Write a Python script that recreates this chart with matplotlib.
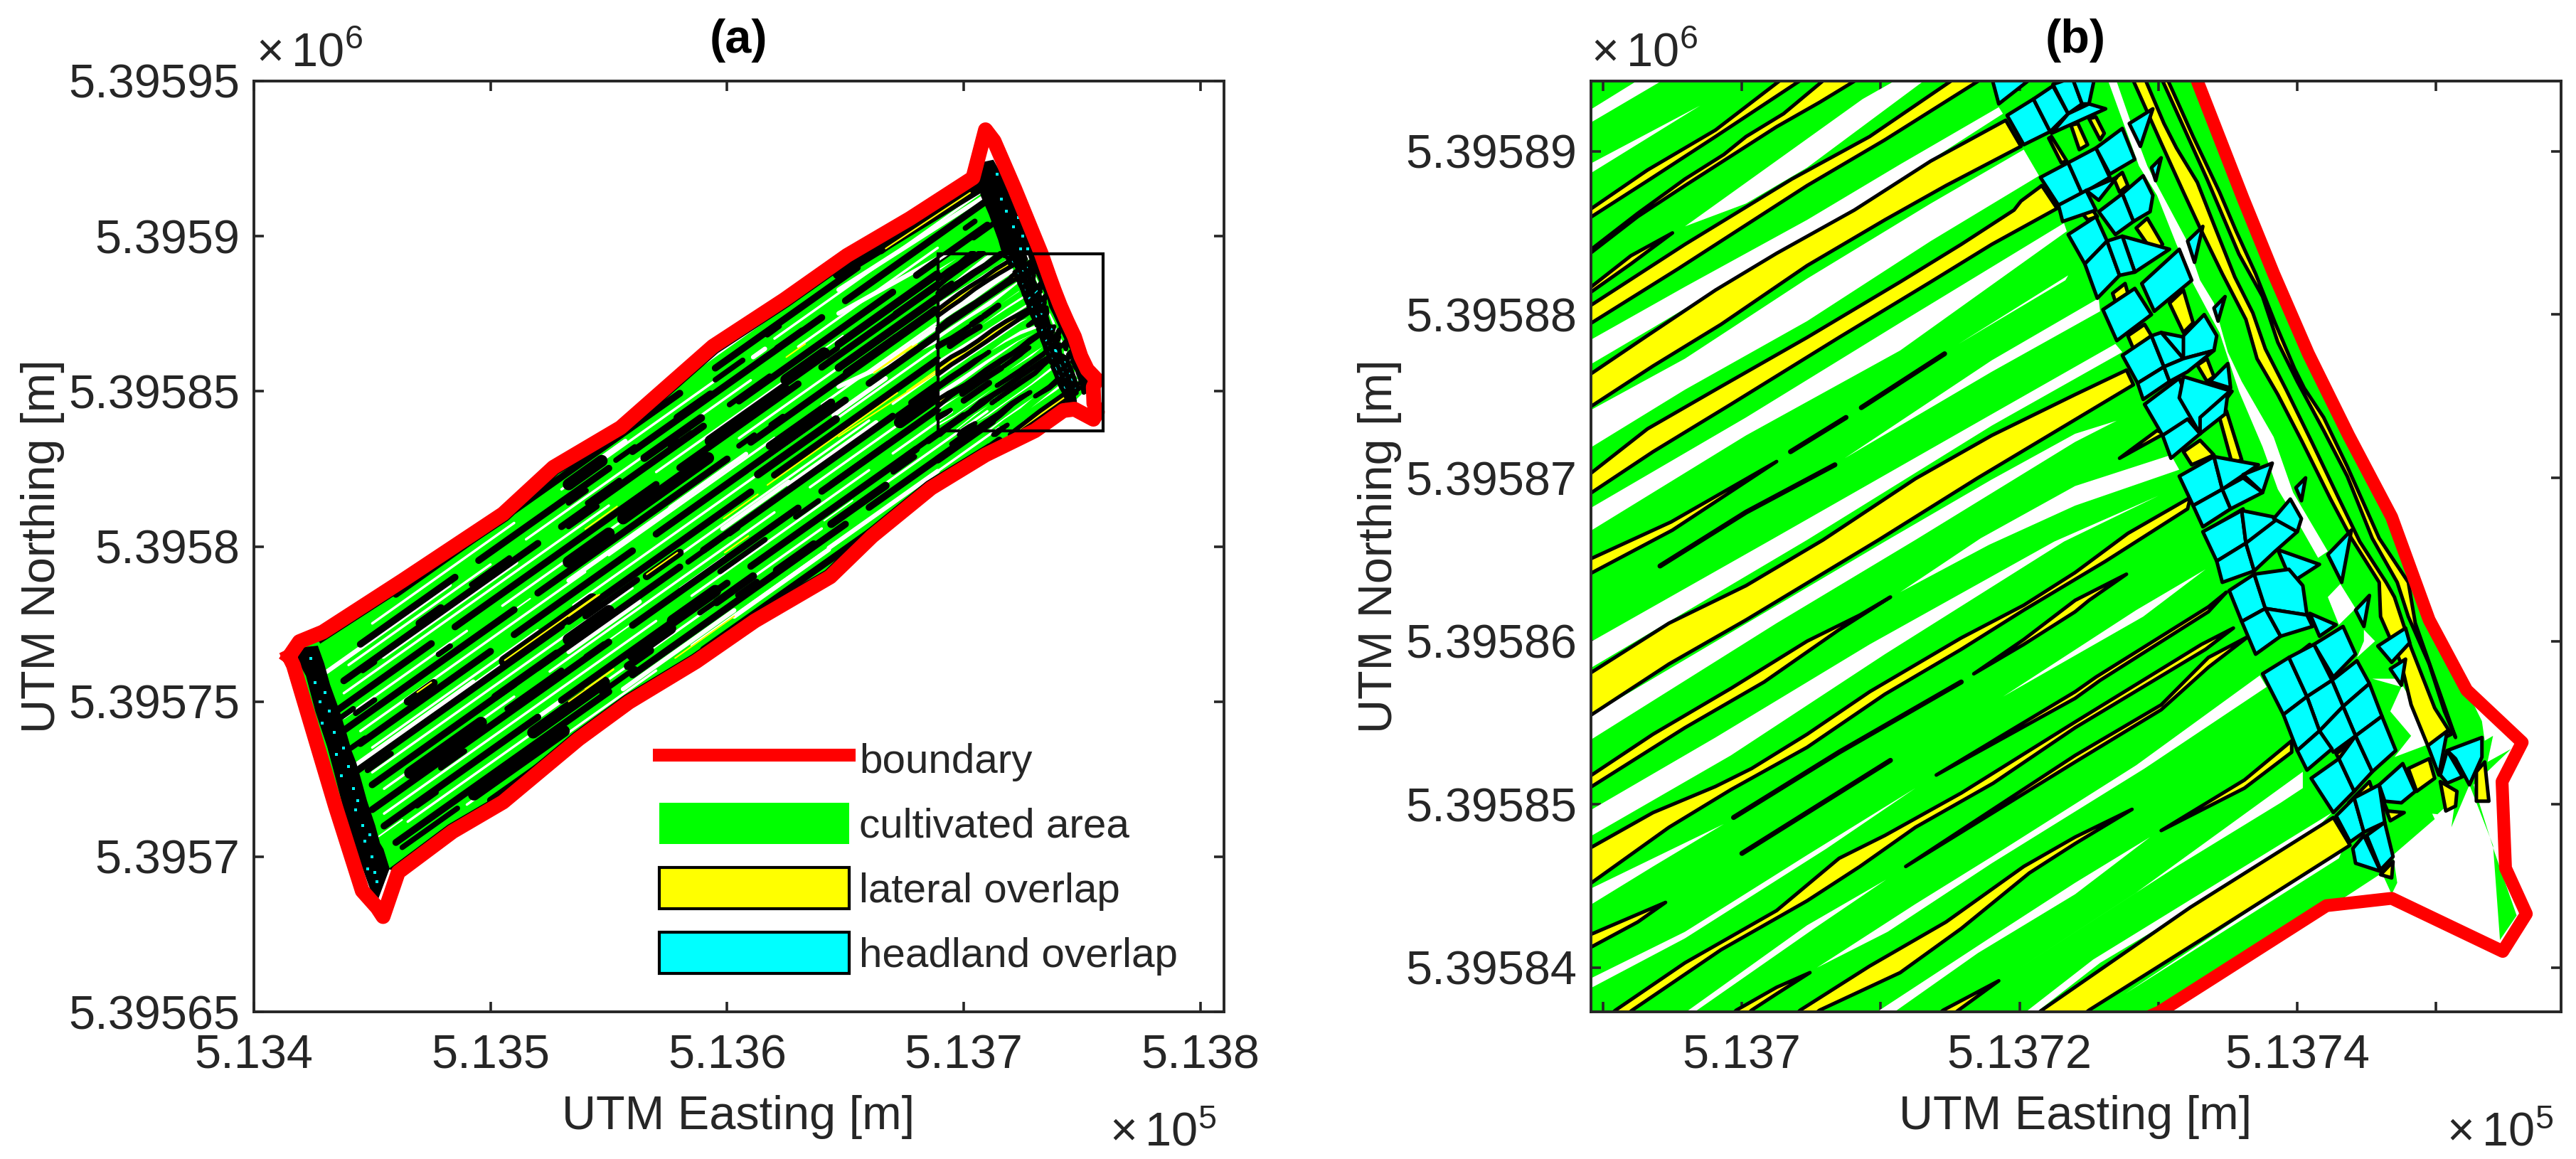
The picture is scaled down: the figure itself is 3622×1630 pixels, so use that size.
import matplotlib
matplotlib.use("Agg")
import matplotlib.pyplot as plt
from matplotlib.lines import Line2D
from matplotlib.patches import Patch, Polygon, Rectangle

plt.rcParams['font.family'] = ['Liberation Sans', 'DejaVu Sans']
plt.rcParams['mathtext.fontset'] = 'custom'
plt.rcParams['mathtext.rm'] = 'Liberation Sans'
plt.rcParams['mathtext.default'] = 'regular'

# local origin of the field, metres (UTM)
EAST0, NORTH0 = 513700.0, 5395800.0

# ---- field outline, (east, north) metres from the origin
BOUNDARY = [(-285.1,-35.5),(-280.8,-30.7),(-270.9,-27.6),(-237.2,-11),(-194.7,10.5),(-173.4,25.5),
 (-145,38.3),(-106,64.5),(-75.9,79.5),(-49.3,93.8),(-22.7,105.7),(3.9,118.8),(9.2,134.3),(12.8,130.7),
 (21.6,115.2),(32.8,94.3),(36.1,87.1),(38.3,82.5),(40.8,77.6),(43.7,72.6),(46.8,67.6),(49.5,61.3),
 (52.2,57),(56.2,53.8),(54.75,51.4),(55,46.1),(56.5,43.3),(54.8,41),(46.8,44.25),(42.1,43.8),(33.8,39.3),
 (30.1,37.3),(9.2,29.5),(-13.8,18.8),(-38.7,3.3),(-56.4,-9.8),(-88.3,-24),(-113.1,-37.1),(-141.5,-50.2),
 (-162.8,-62.1),(-194.7,-82.4),(-216,-91.9),(-239,-105),(-245.4,-119.3),(-247.9,-116.4),(-254.2,-111),
 (-265.6,-83.6),(-283.3,-38.3)]
FIELD = [(-281,-36),(-278,-32),(-270.9,-27.6),(-237.2,-11),(-194.7,10.5),(-173.4,25.5),(-145,38.3),(-106,64.5),
 (-75.9,79.5),(-49.3,93.8),(-22.7,105.7),(3.9,118.8),(9,124),(12.2,124.1),(21.6,115.2),(32.8,94.3),(36.1,87.1),
 (38.3,82.5),(40.8,77.6),(43.7,72.6),(46.8,67.6),(49.5,61.3),(52.2,57),(53.3,55.1),(53.5,53.9),(54.1,54.2),
 (53.7,52.6),(55.4,53.4),(52.7,51.2),(54.2,47.1),(55.8,43.2),(54.6,41.7),(54.1,47.5),(52.4,51.2),(51.1,48.6),
 (51.4,50.4),(50.1,49.4),(49,49.5),(48,52.6),(49.9,49.1),(46.9,46.9),(47.2,45.2),(46.8,44.5),(46.1,45.8),
 (43.4,44.3),(42,44.1),(33.8,39.3),(30.1,37.3),(9.2,29.5),(-13.8,18.8),(-38.7,3.3),(-56.4,-9.8),(-88.3,-24),
 (-113.1,-37.1),(-141.5,-50.2),(-162.8,-62.1),(-194.7,-82.4),(-216,-91.9),(-239,-105),(-243,-104),(-247.8,-113),
 (-254,-104),(-265.6,-83.6)]
EDGE_NORTH = BOUNDARY[2:12]
EDGE_SOUTH = BOUNDARY[32:43]

# ---- uncultivated gaps inside the zoomed area
GAPS = [
 [(-11,92.5),(-7.2,94.5),(-5.4,94.5),(-11,91.7)],
 [(-3,92.8),(-11,89.2),(-11,88.6)],
 [(-4.1,85.4),(8.7,93.2),(11.4,94.5),(13.4,94.5),(4.7,89),(.3,86.8)],
 [(-11,78.4),(-4.1,81.7),(4.7,85.8),(11.4,89.2),(18.5,92.7),(18.8,92.3),(6.9,85.8),(.3,82.6),(-6.4,79.2),(-11,76.9)],
 [(-11,74.1),(-4.1,77.3),(4.7,82.2),(13.6,86.8),(20.3,90.1),(21.4,88.5),(13.6,84.5),(4.7,79.6),(-4.1,75.4),(-11,71.8)],
 [(-11,68.1),(.3,73.7),(11.4,79.5),(23.2,85.6),(23.4,85.1),(11.4,77.8),(.3,72.6),(-11,66.7)],
 [(7.4,71.2),(18,77.2),(25.7,81),(25.8,80.2),(18,76.5)],
 [(15.6,78.2),(23.5,82.4),(23.3,82.1)],
 [(-11,59.9),(2.1,66.2),(18,73.9),(26.9,78.2),(27.4,77.7),(18,73.2),(4.7,66.2),(-11,58.3)],
 [(-11,55.4),(10.5,66.2),(18,69.9),(24,72.7),(27,73.5),(24,72.2),(12.5,66.2),(2.5,61.1),(-11,53.9)],
 [(11.4,63),(17.2,66.3),(24,69.5),(30.9,71.4),(31.5,70.5),(24,68.3),(17.8,65.9)],
 [(-11,49.6),(-1.9,54.1),(9.2,59.8),(22.5,66.1),(30,68.9),(23.2,66.1),(10.3,59.2),(-.8,53),(-11,48)],
 [(-11,44.8),(-1.3,48.8),(-6.4,46.2),(-11,43.8)],
 [(-11,39.3),(-4.1,42.2),(4.7,46.9),(12.5,51),(6.1,47.3),(-4.1,41.8),(-11,38.7)],
 [(-4.5,37),(4.7,42.6),(10.4,45.4),(5.2,42.4),(-3.9,37)],
 [(5.4,40),(12.5,43.9),(18,46.8),(28.4,52.4),(37.3,57.9),(37.8,57.2),(29,52.2),(18,46.4),(10.5,42.2)],
 [(9.2,37),(18,41.9),(24,45.2),(29.4,48),(24,44.5),(17,40.9),(10.5,37)],
 [(18.8,56.6),(28.4,61.9),(33.4,64.4),(28.9,61.5)],
 [(19.3,39.6),(28.4,44.6),(40.4,52),(40.4,51),(38.8,50.1),(31.5,46.3)],
 [(20,37),(25.3,40.5),(42.5,49.5),(40.4,47.7),(25.8,40.3),(20.8,37)],
 [(27.6,38.4),(43,46.7),(43.3,47.3),(29,39.2)],
 [(26.3,94.5),(28.6,89.1),(29.9,87.3),(31.3,84.3),(32.5,81.9),(33.5,80.3),(34.4,78.9),(35.8,75.3),(37.5,71.9),
  (38.6,69.3),(40.3,66.9),(41.5,65.1),(42.2,65.5),(39.7,69.1),(38.3,72.5),(36,75.9),(35,77.7),(34,80.7),(33,82.1),
  (32,84.6),(29.8,88.1),(29.2,89.1),(28,91.8),(26.9,94.5)],
 [(42.2,62.7),(43.1,63.5),(44.2,62),(43,61)],
 [(44.8,60.7),(45.6,60),(44.3,59),(44.8,60)],
 [(45.4,57.7),(47.5,57.2),(46.7,55.7),(48.2,54.2),(47,52.9),(49.5,53.7),(48.4,56.1),(47.3,57.7)],
]

# ---- lateral overlap stripes, upper and lower rim of each
LATERAL = [
 ([(-11,86.4),(-6.8,88.85),(-1.9,91.3),(3,94.5)], [(4.5,94.5),(-1.9,90.9),(-6.6,88.3),(-11,85.9)]),
 ([(-11,83.9),(-7.5,86.2),(-4.1,88.3),(-1.3,89.8),(.3,90.9),(3,92.3),(6.1,94.5)],
  [(8.5,94.5),(5.6,93),(2.5,91.5),(-.8,89.7),(-4.1,87.9),(-7.5,86),(-11,83.7)]),
 ([(-11,80.5),(-4.1,84.3),(3.6,88.3),(9.2,90.9),(15.4,94.5)], [(17.4,94.5),(10.3,90.7),(4.7,87.9),(-4.6,82.8),(-11,79.4)]),
 ([(-11,76.3),(-7,78.6),(-1.9,81.5),(2.5,83.75),(8.1,86.4),(13.6,89.4),(19,91.9)],
  [(20.1,90.3),(14.7,87.9),(10.3,85.8),(4.7,83),(-1.5,79.4),(-6.4,76.85),(-11,74.3)]),
 ([(-11,70.2),(-6.8,73),(-1.9,75.4),(4.7,78.6),(11.4,82),(15.8,84.3),(19.6,86.4),(20.1,86.95),(21.6,87.9)],
  [(22.7,86.5),(18,84.3),(13.6,82),(7,78.6),(-.8,74.5),(-6.4,71.6),(-11,69)]),
 ([(-11,58),(-5.25,61.1),(.3,63.4),(5.85,66.2),(12.5,69.95),(18,72.6),(24,75.1),(27.7,76.6)],
  [(28.2,75.7),(17,70),(9.85,66.2),(.3,61.3),(-5.25,58.6),(-11,55.4)]),
 ([(-11,51.7),(-6.4,54.3),(-.8,57.1),(4.7,60),(8.5,61.6),(10.7,62.7)], [(7,60.7),(1.6,57.5),(-4.1,54.7),(-11,51)]),
 ([(-11,47.3),(-6.4,49.5),(-1.9,51.1),(.7,52.2),(4.7,54.3),(9.2,56.9),(15.8,60.2),(20.3,62.2),(24,64.2),(27.8,66.6),(32.3,68.8)],
  [(32.1,68.1),(26.2,64.9),(20.3,61.9),(15.8,59.5),(10.3,56.75),(4.7,53.5),(-.8,50.9),(-5.25,48.6),(-11,45.1)]),
 ([(16.7,58),(20.3,60.1),(24,62.5),(27.7,64.1)], [(25,62.5),(24,61.8),(20.3,59.8)]),
 ([(14,51.8),(24,56.9),(25.5,57.8),(33.6,62.1),(34.9,63)], [(33.6,61.8),(25.8,57.6),(24,56.5)]),
 ([(-11,36),(-9.1,37.4),(-4.1,40.3),(2.5,43.5),(7,46.7),(10.3,48.1),(15.8,50.7),(24,55.05),(33.1,59.8),(35.4,60.8)],
  [(33.4,59.5),(24,54.7),(18.1,51.3),(12.5,48.6),(8.5,46.2),(4.7,44.1),(-1.5,41.1),(-7.9,37.4),(-10,36)]),
 ([(11.8,46.2),(24,53),(30.2,56.1),(33.6,59),(36.5,60.3)], [(33.6,58.4),(30.2,55.8),(24,52.6)]),
 ([(30.2,48.4),(36.2,51.5),(39.6,53.9)], [(39.6,53.2),(36.2,51)]),
 ([(2.5,36),(4.2,37.4),(9.2,40.1),(14.7,42.8),(20.3,46.2),(24,48),(28.1,49.7)],
  [(24,47.6),(20.7,45.8),(15.8,42.4),(11.4,39.7),(5.6,37.4),(3.5,36)]),
 ([(-2,36),(-.4,37.4),(2.5,38.8),(4.9,39.7)], [(2.5,38.4),(.7,37.4),(-1,36)]),
 ([(12.5,36),(14.5,37.4),(18.5,39.2)], [(15.6,37.4),(13.5,36)]),
 ([(19.5,36),(21.6,37.4),(32.3,43.7),(42.6,49.2)], [(43.8,47.5),(33.6,42),(25,37.4),(23,36)]),
 ([(-11,42),(-5.5,44)], [(-7.5,42.8),(-11,41.2)]),
 ([(-11,65),(-5.1,67.3),(2.5,71)], [(-5,66.8),(-11,64.1)]),
 ([(-11,81.6),(-8,83.6),(-5,85)], [(-8,83.1),(-11,81.3)]),
 ([(27.2,71.2),(29.9,72.9)], [(30.4,72.7)]),
 ([(28.1,94.5),(30.2,90.5),(31.8,87.5),(33,85.3),(34.6,82.5),(36.3,79.7),(37.1,77.3),(38.6,75.1),(40.3,72.3),
   (42.4,68.7),(43.9,66.3),(45.9,63.6),(46,61.5),(47.5,58.6),(48.2,56.1),(49.4,53.6)],
  [(51.1,54.3),(49.9,55.9),(48.2,59.6),(47,62.7),(46.4,63.6),(44.5,66.1),(42.9,68.9),(41.1,72.1),(39.2,75.4),(37.7,77.9),
   (36.8,80.1),(35.5,82.3),(34,85.5),(32.8,88.1),(31.3,90.2),(30.4,91.7),(29,94.5)]),
 ([(30.2,94.5),(31.8,91.5),(33.5,88.3),(34.4,86.5),(35.8,83.7),(37.5,81.1),(38.6,78.3),(40,75.9),(41.9,72.9),(43.6,70.1),
   (45.4,66.3),(47.2,63.6),(48,61.5),(49.5,58.6),(50.6,55.7),(51.4,54.1)],
  [(50.9,55.3),(48.5,61.1),(48,63.6),(45.9,66.3),(43.6,70.7),(41.9,73.7),(40.5,75.5),(39.8,76.7),(38.4,79.5),(37,82.5),
   (35.6,85.1),(34.4,87.5),(32.5,90.9),(30.6,94.5)]),
]
LATERAL_PIECES = [
 [(23.7,91.6),(24.3,90.1),(24.9,90.4),(24.2,91.7)],[(25,92),(25.8,90.7),(26.1,91.1),(25.5,92.1)],
 [(22.1,90.8),(23,89.3),(23.4,89.4),(22.3,90.9)],[(26.8,88.3),(27.4,88.7),(27.8,87.9),(27.2,87.5)],
 [(24.4,86.3),(25,86.7),(25.6,86),(24.9,85.8)],[(28.4,85.3),(29.2,85.9),(30.3,84.3),(29.7,83.7)],
 [(26.7,81.3),(27.6,81.9),(27.8,81.3),(26.9,80.8)],[(30.8,80.7),(31.8,81.5),(32.5,79.5),(31.8,78.9)],
 [(27.8,78.7),(29,79.4),(29.5,78.7),(28.2,77.9)],[(32.8,76.9),(33.5,77.3),(34,76.2),(33.5,75.9)],
 [(34.4,73.7),(34.9,74.1),(36,71.1),(35.3,70.9)],[(31.8,71.6),(33,72.3),(34,71.4),(32.4,70.8)],
 [(34.3,67.2),(36.1,68.1),(36.1,67.8),(34.4,67)],[(39.4,58.8),(40.9,59.8),(41.2,59.4),(39.6,58.4)],
 [(42.8,53.1),(44.1,53.9),(44.2,53.5),(43,52.8)],[(43.7,50.1),(45.2,51.4),(45.6,50.4),(44,50)],
 [(45.9,50.8),(46.5,49.6),(47.7,49.5),(46.7,49)],[(48,52.2),(49.5,52.8),(49.9,51.6),(48.6,50.8)],
 [(50.3,51.4),(51.5,50.8),(51.4,49.9),(50.7,49.6)],[(52.9,52),(53.5,52.6),(53.8,50.2),(52.9,50.2)],
 [(46,45.7),(46.9,46.5),(46.8,45.5)],
]
# ---- narrow tracks where two passes just touch
TRACKS = [
 [(-5.9,64.6),(.3,67.9),(6.7,70.8)],[(3.5,71.6),(7.5,73.7)],[(8.6,74.3),(14.6,77.6)],
 [(-.6,49.2),(7,53.2),(15.8,57.5)],[(0,47),(10.7,52.7)],
]
# ---- headland overlap cells
HEADLAND = [
 [(19.1,92.2),(21,93.2),(22.2,91.2),(20.3,90.4)],[(21,93.2),(22.4,94),(23.5,92.3),(22.2,91.2)],
 [(22.4,94.1),(23.8,94.5),(24.5,92.9),(23.5,92.3)],[(23.8,94.5),(25.4,94.5),(25,92.9),(24.5,92.9)],
 [(25,92.9),(26.2,92.6),(22.3,91.1),(23.5,92.3)],[(18,94.5),(18.5,92.9),(20.9,94.5)],
 [(27.9,91.7),(29.6,92.6),(28.7,90.3)],[(21.5,88.4),(23.5,89.3),(24.5,87.4),(22.8,86.7)],
 [(23.5,89.3),(25.5,90.2),(26.5,88.4),(24.5,87.4)],[(25.5,90.2),(27.4,91.4),(28.3,89.5),(26.5,88.6)],
 [(22.8,86.7),(24.8,87.6),(25.5,86.4),(23.1,85.7)],[(24.8,87.6),(27,88.4),(25.7,87)],
 [(27.4,87.4),(28.9,88.5),(29.6,87.3),(29.4,86.3),(28.2,85.7)],[(29.5,89),(30.2,89.6),(29.8,88.2)],
 [(25.7,86.3),(27.4,87.4),(28.2,85.7),(26.9,84.9)],[(23.5,84.9),(25.5,86),(26.3,84.5),(24.7,83.1)],
 [(24.7,83.1),(26.3,84.5),(27.2,82.4),(25.6,81)],[(27.4,84.8),(30.8,84),(28.3,82.6)],
 [(26.3,84.5),(27.4,84.8),(28.3,82.6),(27.2,82.4)],[(32.1,84.5),(33.2,85.4),(32.6,83.2)],
 [(28.8,81.9),(31.5,84),(32.4,82.1),(29.7,80.2)],[(26,80.3),(28.3,81.6),(29.5,80),(27,78.4)],
 [(34,80.4),(34.8,81.1),(34.3,79.6)],[(30.2,78.9),(33.7,78.3),(31.8,77.3)],
 [(27.4,77.5),(29.5,78.7),(30.4,76.8),(28.5,75.8)],[(28.5,75.8),(30.4,76.8),(30.8,75.9),(28.9,74.8)],
 [(29.5,78.7),(30.2,78.9),(31.8,77.3),(30.4,76.8)],[(31.8,78.7),(33.3,80),(34.2,78.7),(34,77.8),(31.8,77.3)],
 [(30.4,76.8),(31.8,77.3),(34,77.8),(32.1,76.5),(30.8,75.9)],[(29,74.5),(31.5,76.1),(32.6,73.7),(30.3,72.6)],
 [(30.3,72.6),(32.1,73.6),(33,72.7),(30.9,71.2)],[(31.8,76.2),(35.3,75.3),(33,72.7),(31.5,74.9)],
 [(33.7,75.9),(35,77),(35.2,75.5)],[(33,72.7),(34.8,73.9),(35,75.2),(33,73.7)],
 [(31.5,70.1),(34,71.3),(34.6,69.3),(32.5,68.3)],[(32.5,68.3),(34.6,69.3),(35.2,68.1),(33.2,67)],
 [(34,71.3),(37.2,70.8),(34.6,69.3)],[(34.6,69.3),(36.1,70),(37.5,69.1),(35.2,68.1)],
 [(36.1,70.2),(38.2,70.9),(37.5,69.1)],[(39.9,69.4),(40.6,70),(40.3,68.6)],
 [(33.2,66.7),(36,68),(36.3,66),(34.2,64.9)],[(36,68),(39.5,67.4),(36.3,66)],
 [(34.2,64.9),(36.3,66),(36.9,64.3),(34.6,63.6)],[(36.3,66),(38.6,67.5),(40,66.7),(38.4,65.5),(36.9,64.3)],
 [(38.3,67.5),(39.5,68.7),(40.3,67.5),(40,66.7)],[(38.6,65.6),(41.6,64.7),(39.6,63.6)],
 [(42.2,65.3),(43.9,66.8),(43.2,63.6)],
 [(35.1,63.1),(36.9,64.1),(37.7,62),(36,61.2)],[(36.9,64.1),(39.4,64.4),(40.4,63.4),(40.7,61.6),(37.7,62)],
 [(36,61.2),(37.7,62),(38.8,60.3),(37,59.2)],[(37.7,62),(40.7,61.6),(41.1,60.9),(38.8,60.3)],
 [(40.9,61.7),(42.8,61),(41.6,60.3)],[(41.2,59.8),(43.3,60.9),(44.2,59.2),(42.6,57.8)],
 [(37.5,58),(39.4,59),(40.7,56.6),(39,55.5)],[(39.4,59),(41.2,59.8),(42.5,57.6),(40.7,56.6)],
 [(42.5,57.6),(44.3,58.8),(45.2,57.4),(43.3,56)],[(40.7,56.6),(42.5,57.6),(43.3,56),(41.6,54.5)],
 [(39,55.5),(40.7,56.6),(41.6,54.5),(40,53.3)],[(43.3,56),(45.2,57.4),(46.1,55.4),(44.2,54.2)],
 [(41.6,54.5),(43.3,56),(44.2,54.2),(42.6,53.2)],[(40,53.3),(41.6,54.5),(42.5,53.4),(40.7,52.1)],
 [(41,51.6),(43,52.8),(44.1,50.8),(42.6,49.5)],[(43,52.8),(44.2,54.2),(45.4,52),(44.1,50.8)],
 [(44.2,54.2),(46.1,55.4),(47.1,53.3),(45.4,52)],[(42.8,49.3),(44.1,50.4),(44.8,48.3),(43.8,47.7)],
 [(44.1,50.4),(45.9,51.2),(46.3,48.9),(44.8,48.3)],[(44,47.3),(44.8,48.1),(46,45.9),(44.2,46.4)],
 [(45,48.1),(46.3,48.9),(46.9,46.8),(46,46)],[(45.9,51.2),(47.6,52.5),(48.5,50.8),(47.5,50.1),(46.3,50.2)],
 [(49.4,53.6),(50.8,54.5),(50.2,51.8)],[(50.8,53.3),(53.3,54.1),(53.3,52.9),(52.4,51.2),(51.4,52.8)],
 [(50.3,51.8),(50.8,53.3),(51.9,51.7),(50.8,51.3)],[(45.8,59.7),(47.8,60.8),(48.1,59.9),(46.8,58.7)],
 [(46.7,58.3),(47.8,58.9),(47.5,57.3)],[(44.2,61.9),(45.2,62.8),(44.8,60.9)],
]

# ---- whole-field overview: dense headlands and streaks (e0,n0,e1,n1)
HEAD_WEST = [(-281.4,-35.9),(-278.4,-32.9),(-273.4,-32.5),(-270.9,-37.8),(-268.4,-44.7),(-264.4,-53.1),(-261.3,-60.7),
 (-259.3,-66),(-257.3,-69.9),(-255.3,-75.2),(-252.8,-82.1),(-249.3,-90.1),(-247.3,-95.8),(-245.8,-97.7),(-243.3,-103.8),
 (-247.8,-113),(-250.3,-110.3),(-254.3,-101.9),(-259.3,-91.2),(-264.4,-76),(-268.4,-64.5),(-273.4,-53.1),(-277.4,-41.6)]
HEAD_EAST = [(9.2,123.6),(12.2,124.1),(16.2,118.6),(21.2,109.5),(26.3,101.1),(31,93),(17.2,93.4),(15.2,98.8),(11.2,107.2),(7.7,113.3),(7.2,117.8)]
HEAD_SPECKS_E = [-276,-274,-272,-270,-271,-268,-266,-265,-262,-263,-260,-258,-257,-256,-254,-253,-251,-250,-252,-249,-248,14,16,18,20,21,23,25,24,27]
HEAD_SPECKS_N = [-36,-44,-50,-47,-57,-53,-60,-67,-65,-74,-71,-78,-85,-82,-90,-95,-93,-100,-104,-105,-108,120,112,108,115,103,106,100,96,96]
# pass-to-pass tracks: north value of each row at e=-167, and the stretches (from e, to e) read along it
ROW_NORTH = [24, 16, 8, 0, -8, -16, -24, -32, -40, -48, -56, -64, -72]
ROW_STRETCH = [
 [(-240,-200),(-190,-120),(-105,-45),(-35,5)],
 [(-255,-215),(-205,-150),(-140,-60),(-50,12)],
 [(-262,-180),(-170,-110),(-95,-30),(-20,10)],
 [(-270,-225),(-215,-130),(-120,-70),(-60,-11)],
 [(-262,-190),(-180,-100),(-90,-11)],
 [(-255,-200),(-190,-140),(-130,-50),(-40,-11)],
 [(-258,-170),(-160,-90),(-80,-11)],
 [(-250,-190),(-180,-120),(-110,-30),(-22,-11)],
 [(-250,-150),(-140,-70),(-60,-11)],
 [(-245,-180),(-170,-100),(-90,-20),(-15,0)],
 [(-240,-150),(-140,-50),(-40,10)],
 [(-200,-120),(-110,-30),(-20,15)],
 [(-160,-90),(-80,-5)],
]
GAP_NORTH = [28, 20, 12, 4, -4, -12, -20, -28, -36, -44, -52, -60, -68]
GAP_STRETCH = [
 [(-230,-170),(-150,-60),(-40,8)],
 [(-250,-190),(-170,-100),(-80,-11),(-11,10)],
 [(-260,-200),(-185,-90),(-70,-11)],
 [(-262,-150),(-130,-60),(-45,-11)],
 [(-262,-210),(-195,-110),(-95,-11)],
 [(-255,-160),(-150,-80),(-60,-11)],
 [(-250,-180),(-165,-70),(-55,-11)],
 [(-250,-140),(-125,-40),(-30,-11)],
 [(-245,-190),(-175,-80),(-65,-11)],
 [(-245,-130),(-115,-40),(-30,-5)],
 [(-235,-160),(-150,-60),(-50,10)],
 [(-210,-130),(-115,-30),(-15,15)],
 [(-180,-95),(-85,-5)],
]
ROW_RISE = 0.54
STREAK_HEAVY = [(-144,9,-108,28.5),(-107,34,-76,50.7),(-167,20,-153,27.6),(-75,53.7,-59,62.3),(-167,-5,-150,4.2),
 (-123,-24,-105,-14.3),(-140,-35,-124,-26.4),(-234,-73,-204,-56.8),(-53,88,7,116),(-194,-37,-157,-17),(-207,-80,-169,-59.5),
 (-182,-60,-152,-43.8),(-167,-30,-150,-20.8),(-27,40,-12,48.1)]
STREAK_THICK = [(-121,41.5,-107,49),(-135,28.5,-111,41.4),(-82,32.4,-56,46.4),(-87,23.2,-54,41),(-49.4,56,-12,76.2),
 (-79,-7.7,-63.4,.7),(-134,-9.6,-120,-2),(-104.5,-18,-89,-9.6),(-142,-38.6,-132.5,-33.5),(-167,-24,-154.6,-17.3),
 (-198,-48.5,-172,-34.5),(-49.4,56,-28.3,67.4),(-52.9,65.2,-11.3,87.7),(-52.9,57.6,-11.3,80),(-56,7.2,-33,19.6),
 (-230,-24.8,-221,-19.9),(-235,-50,-224,-44),(-11,28,12,40.4)]
STREAK_THIN = [(-83,68.2,-78,71),(-79,64,-68.4,69.7),(-105,53.7,-93.4,60),(-120,33.9,-115,36.6),(-124,32.4,-121,34),
 (-159,14,-145.5,21.3),(-167,14,-159.6,18),(-95,32.4,-88.5,35.9),(-99,45.7,-82,54.9),(-81.4,39.2,-76.4,41.9),
 (-58,61.4,-53.4,63.9),(-53.4,29.3,-46.4,33.1),(-56,20.2,-32,33.2),(-29.8,24,-20.8,28.9),(-24.3,29.3,-10.8,36.6),
 (-71,9.5,-61.4,14.7),(-85,12.5,-80.4,15),(-99,4.1,-95.5,6),(-116.5,-5,-104.5,1.5),(-103,-8.1,-84,2.2),
 (-27.8,42.3,-10.8,51.5),(-95.5,-15.7,-87.4,-11.3),(-111.5,-21.4,-105.5,-18.2),(-159.6,-35.5,-152,-31.4),
 (-159.6,-22.6,-138,-10.9),(-119,1.8,-114,4.7),(-167,6.4,-155,12.9),(-147,27.8,-139,32.1),
 (-208,-12.3,-192,-3.7),(-174,-11.9,-163,-6),(-160,-22.6,-138,-10.7),(-222,-34.8,-217,-32.1),(-254,-40,-249,-37.3),
 (-257,-53.8,-249,-49.5),(-263,-55,-258,-52.3),(-193,-52.3,-170,-39.9),(-168,-53,-153,-44.9),(-153,-47,-139,-39.4),
 (-259,-65,-253,-61.8),(-252,-72.2,-242,-66.8),(-221,-71.4,-211,-66),(-231,-83.6,-223,-79.3),(-237.3,-97,-214,-84.4),
 (.7,102.6,4.7,104.8),(4.2,99.5,13.2,104.4),(-28.9,75.1,-11.3,84.6),(-27.8,41.9,-11.3,50.8),(-5,33,5,38.4)]
WHITE_THICK = [(-167,21,-143,34),(-89,61,-84,63.7),(-167,-11,-124,12.2),(-124,12.5,-92,29.8),(-102,5.7,-74,20.8),(-74,20,-37,40),
 (-38,56.4,-12,70.4),(-55,42.3,-33,54.2),(-167,-34,-137,-17.8),(-144,-46,-97,-20.6),(-97,-22.6,-57,-1),(-57,-.5,-11,24.3),
 (-52.9,82.7,8.2,112.5),(-52.9,75.1,-11.3,92.7),(-52.9,51.5,-11.3,66.3),(-269.4,-40.5,-217.3,-12.4),(-245.3,-35.5,-189.2,-5.2),
 (-257.3,-70.6,-207.3,-43.6),(-217.3,-75.2,-164.2,-46.5),(-221.3,-52.3,-170.2,-24.7)]
WHITE_THIN = [(-91,24,-57,42.4),(-76.4,16.7,-48.9,31.6),(-59,8.3,-47,14.8),(-123,3.7,-97,17.7),(-120,-13.4,-101,-3.1),
 (-150,-30.2,-117,-12.4),(-99,-7.3,-89,-1.9),(-64,61,-51,68),(-207.2,-29.8,-183.2,-16.8),(-247.3,-93.5,-237.3,-88.1)]
YELLOW_THIN = [(-194,-36.7,-155,-15.7),(-167,-50,-148,-39.7),(-231,-47,-225,-43.8),(-160,5.6,-146.5,12.9),(-101.5,9,-87,16.8),
 (-83,19.8,-28,49.5),(-122,-36,-97,-22.5),(-167,-22.5,-154,-15.5),(-134,-9,-121,-2),(-101,-2,-91,3.4),(-38,56,-22,64.6),(-24,50,-12,56.5),
 (-160,-46,-148,-39.5),(-75,61,-67,65.3),(-33,96,2.7,114),(-37.9,56,-19.8,65.2),(-52.9,35.4,-11.3,56)]

# ---- axes, ticks and labels
XLIM_A, YLIM_A = (513400, 513810), (5395650, 5395950)
XTICK_A = [513400, 513500, 513600, 513700, 513800]
XLAB_A = ['5.134', '5.135', '5.136', '5.137', '5.138']
YTICK_A = [5395650, 5395700, 5395750, 5395800, 5395850, 5395900, 5395950]
YLAB_A = ['5.39565', '5.3957', '5.39575', '5.3958', '5.39585', '5.3959', '5.39595']
XLIM_B, YLIM_B = (513689.13, 513759.0), (5395837.3, 5395894.3)
XTICK_B = [513690, 513700, 513710, 513720, 513730, 513740, 513750]
XLAB_B = ['', '5.137', '', '5.1372', '', '5.1374', '']
YTICK_B = [5395840, 5395850, 5395860, 5395870, 5395880, 5395890]
YLAB_B = ['5.39584', '5.39585', '5.39586', '5.39587', '5.39588', '5.39589']
LEGEND = ['boundary', 'cultivated area', 'lateral overlap', 'headland overlap']

W, H = 3622, 1630
INK = '#262626'
fig = plt.figure(figsize=(W / 100, H / 100), dpi=100)
axa = fig.add_axes([357 / W, 1 - 1423 / H, (1721 - 357) / W, (1423 - 114) / H])
axb = fig.add_axes([2237 / W, 1 - 1423 / H, (3601 - 2237) / W, (1423 - 114) / H])


def poly(ax, pts, **kw):
    xy = [(EAST0 + e, NORTH0 + n) for e, n in pts]
    p = Polygon(xy, closed=True, **kw)
    ax.add_patch(p)
    return p


def line(ax, pts, **kw):
    return ax.plot([EAST0 + p[0] for p in pts], [NORTH0 + p[1] for p in pts], **kw)[0]


def streaks(ax, rows, color, lw, z):
    for e0, n0, e1, n1 in rows:
        line(ax, [(e0, n0), (e1, n1)], color=color, lw=lw, solid_capstyle='round', zorder=z)


def rows(ax, norths, stretches, color, lw, z, clip):
    for north, parts in zip(norths, stretches):
        for e0, e1 in parts:
            seg = line(ax, [(e0, north + ROW_RISE * (e0 + 167)), (e1, north + ROW_RISE * (e1 + 167))],
                       color=color, lw=lw, solid_capstyle='round', zorder=z)
            seg.set_clip_path(clip)


def draw_detail(ax, lw):
    for g in GAPS:
        poly(ax, g, fc='white', ec='none', zorder=2)
    for upper, lower in LATERAL:
        poly(ax, upper + lower, fc='#ffff00', ec='black', lw=lw, joinstyle='round', zorder=3)
    for piece in LATERAL_PIECES:
        poly(ax, piece, fc='#ffff00', ec='black', lw=lw, joinstyle='round', zorder=3)
    for t in TRACKS:
        line(ax, t, color='black', lw=lw * 1.4, solid_capstyle='round', zorder=3)
    for cell in HEADLAND:
        poly(ax, cell, fc='#00ffff', ec='black', lw=lw, joinstyle='round', zorder=4)


# panel (a)
field_a = poly(axa, FIELD, fc='#00ff00', ec='none', zorder=1)
streaks(axa, WHITE_THICK, 'white', 4.5, 1.5)
streaks(axa, WHITE_THIN, 'white', 1.5, 1.5)
rows(axa, GAP_NORTH, GAP_STRETCH, 'white', 2.5, 1.5, field_a)
for edge in (EDGE_NORTH, EDGE_SOUTH):
    rim = line(axa, edge, color='black', lw=17, zorder=1.6)
    rim.set_clip_path(field_a)
draw_detail(axa, 4.5)
rows(axa, ROW_NORTH, ROW_STRETCH, 'black', 7, 1.7, field_a)
streaks(axa, STREAK_HEAVY, 'black', 12, 1.7)
streaks(axa, STREAK_THICK, 'black', 8, 1.7)
streaks(axa, STREAK_THIN, 'black', 5.5, 1.7)
streaks(axa, YELLOW_THIN, '#ffff00', 1.5, 1.8)
poly(axa, HEAD_WEST, fc='black', ec='black', lw=3, zorder=1.9)
poly(axa, HEAD_EAST, fc='black', ec='black', lw=3, zorder=1.9)
axa.scatter([EAST0 + e for e in HEAD_SPECKS_E], [NORTH0 + n for n in HEAD_SPECKS_N],
            s=9, marker='s', color='#00ffff', lw=0, zorder=2)
line(axa, BOUNDARY + BOUNDARY[:1], color='#ff0000', lw=15, solid_joinstyle='round', zorder=5)
axa.add_patch(Rectangle((XLIM_B[0], YLIM_B[0]), XLIM_B[1] - XLIM_B[0], YLIM_B[1] - YLIM_B[0],
                        fc='none', ec='black', lw=3, zorder=6))

# panel (b)
poly(axb, FIELD, fc='#00ff00', ec='none', zorder=1)
draw_detail(axb, 3.6)
line(axb, BOUNDARY + BOUNDARY[:1], color='#ff0000', lw=13, solid_joinstyle='round', zorder=5)

for ax, xl, yl, xt, xs, yt, ys in ((axa, XLIM_A, YLIM_A, XTICK_A, XLAB_A, YTICK_A, YLAB_A),
                                   (axb, XLIM_B, YLIM_B, XTICK_B, XLAB_B, YTICK_B, YLAB_B)):
    ax.set_xlim(*xl)
    ax.set_ylim(*yl)
    ax.set_xticks(xt, xs)
    ax.set_yticks(yt, ys)
    ax.tick_params(direction='in', length=10, width=2.6, top=True, right=True, labelsize=48,
                   colors=INK, pad=14)
    ax.tick_params(axis='x', pad=23)
    for s in ax.spines.values():
        s.set_linewidth(2.8)
        s.set_color(INK)
        s.set_zorder(7)

handles = [Line2D([], [], color='#ff0000', lw=13),
           Patch(fc='#00ff00', ec='none'),
           Patch(fc='#ffff00', ec='black', lw=3),
           Patch(fc='#00ffff', ec='black', lw=3)]
axa.legend(handles, LEGEND, loc='lower left', bbox_to_anchor=((898 - 357) / 1364, (1423 - 1401) / 1309),
           frameon=False, fontsize=42, handlelength=4.57, handleheight=1.15, labelspacing=0.52,
           handletextpad=0.25, borderpad=0, labelcolor=INK)

for x, name in ((1038, '(a)'), (2918, '(b)')):
    fig.text(x / W, 1 - 57 / H, name, ha='center', va='center', fontsize=48, fontweight='bold', color='black')
for x, name in ((1038, 'UTM Easting [m]'), (2918, 'UTM Easting [m]')):
    fig.text(x / W, 1 - 1571 / H, name, ha='center', va='center', fontsize=48, color=INK)
for x in (60, 1940):
    fig.text(x / W, 1 - 768 / H, 'UTM Northing [m]', ha='center', va='center', rotation=90, fontsize=48, color=INK)
for x in (360, 2237):
    fig.text(x / W, 1 - 94 / H, r'$\times\,10^{6}$', ha='left', va='baseline', fontsize=48, color=INK)
for x in (1560, 3440):
    fig.text(x / W, 1 - 1612 / H, r'$\times\,10^{5}$', ha='left', va='baseline', fontsize=48, color=INK)

fig.savefig('out.png', dpi=100)
